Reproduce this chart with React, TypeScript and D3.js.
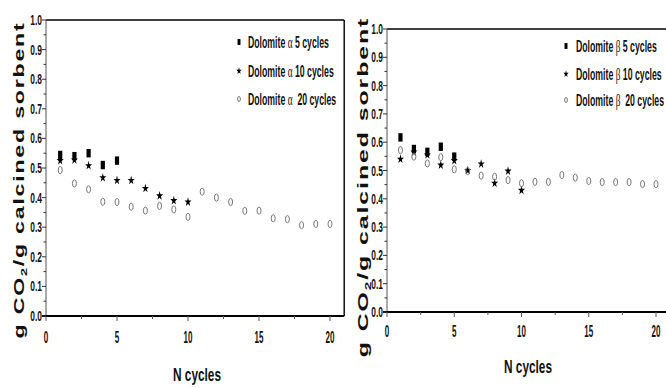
import React from "react";
import * as d3 from "d3";

const cycles5 = [1, 2, 3, 4, 5];
const cycles10 = [1, 2, 3, 4, 5, 6, 7, 8, 9, 10];
const cycles20 = [1, 2, 3, 4, 5, 6, 7, 8, 9, 10, 11, 12, 13, 14, 15, 16, 17, 18, 19, 20];

const alpha5 = [0.544, 0.54, 0.55, 0.51, 0.525];
const alpha10 = [0.525, 0.527, 0.508, 0.467, 0.458, 0.458, 0.431, 0.406, 0.39, 0.385];
const alpha20 = [0.493, 0.448, 0.428, 0.386, 0.385, 0.369, 0.356, 0.372, 0.36, 0.335, 0.42, 0.4, 0.385, 0.355, 0.356, 0.33, 0.327, 0.307, 0.311, 0.311];

const beta5 = [0.617, 0.576, 0.566, 0.584, 0.549];
const beta10 = [0.54, 0.565, 0.555, 0.519, 0.535, 0.5, 0.523, 0.455, 0.498, 0.43];
const beta20 = [0.572, 0.549, 0.525, 0.547, 0.504, 0.498, 0.482, 0.478, 0.466, 0.455, 0.46, 0.46, 0.484, 0.475, 0.463, 0.459, 0.459, 0.459, 0.452, 0.452];

const yTicks = [0, 0.1, 0.2, 0.3, 0.4, 0.5, 0.6, 0.7, 0.8, 0.9, 1.0];
const xTicks = [0, 5, 10, 15, 20];
const legendAlpha = [["Dolomite ", "\u03b1", " 5 cycles"], ["Dolomite ", "\u03b1", " 10 cycles"], ["Dolomite ", "\u03b1", "  20 cycles"]];
const legendBeta = [["Dolomite ", "\u03b2", " 5 cycles"], ["Dolomite ", "\u03b2", " 10 cycles"], ["Dolomite ", "\u03b2", "  20 cycles"]];

const SANS = "'Liberation Sans', Arial, sans-serif";
const SERIF = "'Liberation Serif', 'DejaVu Serif', serif";

type PanelProps = {
  x0: number; x1: number; y0: number; y1: number; frameRight: boolean;
  s5: number[]; s10: number[]; s20: number[]; legend: string[][];
  legX: number; legTextX: number; legY: number[]; labelX: number; labelY: number; labelScale: number;
  xLabelX: number; xLabelY: number; xTickY: number;
};

const starPath = d3.symbol().type(d3.symbolStar).size(24)() as string;
const starSmall = d3.symbol().type(d3.symbolStar).size(14)() as string;

function Marker({ kind, cx, cy, small }: { kind: number; cx: number; cy: number; small?: boolean }) {
  const k = small ? 0.7 : 1;
  if (kind === 0) return <rect x={cx - 2.1 * k} y={cy - 4.2 * k} width={4.2 * k} height={8.4 * k} fill="#000" />;
  if (kind === 1) return <path d={small ? starSmall : starPath} transform={`translate(${cx},${cy}) scale(0.8,1.05)`} fill="#000" />;
  return <ellipse cx={cx} cy={cy} rx={2 * k} ry={3.6 * k} fill="none" stroke="#777" strokeWidth={1} />;
}

function Panel(p: PanelProps) {
  const xs = d3.scaleLinear().domain([0, 20]).range([p.x0, p.x1]);
  const ys = d3.scaleLinear().domain([0, 1]).range([p.y1, p.y0]);
  const xMax = p.frameRight ? 21 : 22;
  const xEnd = Math.min(xs(xMax), 666);
  const minorY = d3.range(0, 21).map((i) => i * 0.05);
  const minorX = d3.range(0, 9).map((i) => i * 2.5);
  return (
    <g>
      <line x1={p.x0} x2={xEnd} y1={ys(1)} y2={ys(1)} stroke="#000" strokeWidth={1.4} />
      {p.frameRight && <line x1={xEnd} x2={xEnd} y1={ys(1)} y2={ys(0)} stroke="#000" strokeWidth={1.4} />}
      <line x1={p.x0} x2={p.x0} y1={ys(1)} y2={ys(0)} stroke="#555" strokeWidth={1} />
      <line x1={p.x0 - 4} x2={xEnd} y1={ys(0)} y2={ys(0)} stroke="#000" strokeWidth={2} />
      {minorY.map((v, i) => (
        <line key={"my" + i} x1={p.x0 - (i % 2 === 0 ? 4 : 2.5)} x2={p.x0} y1={ys(v)} y2={ys(v)} stroke="#333" strokeWidth={1} />
      ))}
      {minorX.map((v, i) => (
        <line key={"mx" + i} x1={xs(v)} x2={xs(v)} y1={ys(0)} y2={ys(0) + (i % 2 === 0 ? 5 : 3)} stroke="#555" strokeWidth={1} />
      ))}
      {yTicks.map((v) => (
        <text key={"yt" + v} transform={`translate(${p.x0 - 4},${ys(v)}) scale(0.6,1)`} dy="0.36em" textAnchor="end" fontFamily={SANS} fontWeight="bold" fontSize={14} fill="#111">
          {v.toFixed(1)}
        </text>
      ))}
      {xTicks.map((v) => (
        <text key={"xt" + v} transform={`translate(${xs(v)},${p.xTickY}) scale(0.5,1)`} dy="0.36em" textAnchor="middle" fontFamily={SANS} fontWeight="bold" fontSize={16} fill="#111">
          {v}
        </text>
      ))}
      {p.s5.map((v, i) => <Marker key={"a" + i} kind={0} cx={xs(cycles5[i])} cy={ys(v)} />)}
      {p.s10.map((v, i) => <Marker key={"b" + i} kind={1} cx={xs(cycles10[i])} cy={ys(v)} />)}
      {p.s20.map((v, i) => <Marker key={"c" + i} kind={2} cx={xs(cycles20[i])} cy={ys(v)} />)}
      {p.legend.map((t, i) => (
        <g key={"l" + i}>
          <Marker kind={i} cx={p.legX} cy={p.legY[i]} small />
          <text transform={`translate(${p.legTextX},${p.legY[i]}) scale(0.545,1)`} dy="0.36em" fontFamily={SANS} fontWeight="bold" fontSize={16} fill="#111" style={{ whiteSpace: "pre" }}>
            {t[0]}<tspan fontFamily={SERIF} fontWeight="normal" fontSize={17}>{t[1]}</tspan>{t[2]}
          </text>
        </g>
      ))}
      <text transform={`translate(${p.labelX},${p.labelY}) rotate(-90) scale(${p.labelScale},1)`} textAnchor="middle" fontFamily={SANS} fontWeight="bold" fontSize={14.5} letterSpacing={1.1} fill="#111">
        g CO<tspan fontSize={9} dy={3}>2</tspan><tspan dy={-3}>/g calcined sorbent</tspan>
      </text>
      <text transform={`translate(${p.xLabelX},${p.xLabelY}) scale(0.64,1)`} textAnchor="middle" fontFamily={SANS} fontWeight="bold" fontSize={18.5} fill="#111">
        N cycles
      </text>
    </g>
  );
}

export default function App() {
  return (
    <svg width={666} height={388} style={{ position: "absolute", left: 0, top: 0, background: "#fff" }}>
      <rect width={666} height={388} fill="#fff" />
      <Panel x0={46} x1={330} y0={20} y1={316} frameRight={true}
        s5={alpha5} s10={alpha10} s20={alpha20} legend={legendAlpha}
        legX={239} legTextX={248} legY={[42, 71, 99]} labelX={24} labelY={180} labelScale={1.6}
        xLabelX={197} xLabelY={381} xTickY={337} />
      <Panel x0={387} x1={656} y0={29} y1={312} frameRight={false}
        s5={beta5} s10={beta10} s20={beta20} legend={legendBeta}
        legX={566} legTextX={576} legY={[46, 74, 100]} labelX={368} labelY={187} labelScale={1.72}
        xLabelX={528} xLabelY={373} xTickY={331} />
    </svg>
  );
}
